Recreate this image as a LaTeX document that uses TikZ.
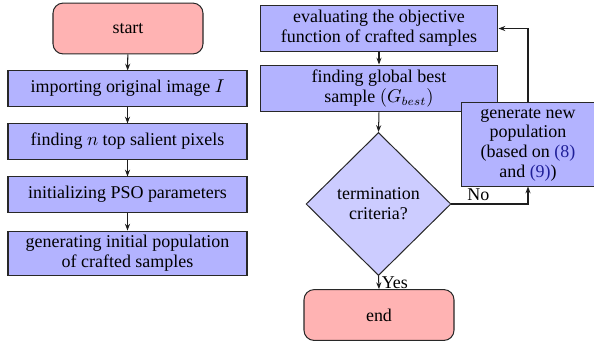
\documentclass[tikz,border=0pt]{standalone}
\usepackage{fontspec}
\setmainfont{Liberation Serif}
\usetikzlibrary{shapes.geometric,arrows.meta}
\definecolor{linkblue}{rgb}{0.12,0.12,0.6}
\begin{document}
\begin{tikzpicture}[x=0.59pt,y=0.59pt,yscale=-1,xscale=1,
  font=\fontsize{10.6}{11.6}\selectfont,
  stepbox/.style={draw={rgb,255:red,40;green,40;blue,40},fill={rgb,255:red,179;green,179;blue,255},line width=0.6pt,inner sep=1pt,align=center},
  termbox/.style={draw={rgb,255:red,40;green,40;blue,40},fill={rgb,255:red,255;green,179;blue,179},line width=0.6pt,rounded corners=6pt,minimum width=88.5pt,minimum height=30pt},
  testbox/.style={diamond,draw={rgb,255:red,40;green,40;blue,40},fill={rgb,255:red,204;green,204;blue,255},line width=0.6pt,inner sep=0pt,align=center,minimum width=85.5pt,minimum height=84.4pt},
  flow/.style={-{Stealth[length=4pt,width=3pt]},line width=0.6pt,draw={rgb,255:red,30;green,30;blue,30}}]
\useasboundingbox (0,0) rectangle (594,341);

% Left column
\node (start) [termbox] at (128,28.5) {start};
\node (import) [stepbox,minimum width=141pt,minimum height=20.7pt] at (127.5,88.5) {importing original image $I$};
\node (salient) [stepbox,minimum width=141pt,minimum height=20.7pt] at (127.5,141.5) {finding $n$ top salient pixels};
\node (params) [stepbox,minimum width=141pt,minimum height=20.7pt] at (127.5,194.5) {initializing PSO parameters};
\node (initpop) [stepbox,minimum width=141pt,minimum height=26.5pt] at (127.5,253.5) {generating initial population\\of crafted samples};

% Right column
\node (evaluate) [stepbox,minimum width=140.4pt,minimum height=27.7pt] at (379,28.5) {evaluating the objective\\function of crafted samples};
\node (gbest) [stepbox,minimum width=140.4pt,minimum height=27.7pt] at (379,88.5) {finding global best\\sample $(G_{best})$};
\node (term) [testbox] at (378.5,204) {termination\\criteria?};
\node (end) [termbox] at (379,315) {end};
\node (newpop) [stepbox,minimum width=79pt,minimum height=49pt,inner sep=0pt] at (528,144.5) {generate new\\population\\(based on \textcolor{linkblue}{(8)}\\and \textcolor{linkblue}{(9)})};

% Connectors
\draw [flow] (start) -- (import);
\draw [flow] (import) -- (salient);
\draw [flow] (salient) -- (params);
\draw [flow] (params) -- (initpop);
\draw [flow] (evaluate) -- (gbest);
\draw [flow] (gbest.south) -- (term.north);
\draw [flow] (term.south) -- node [anchor=west,inner sep=1.5pt] {Yes} (end.north);
\draw [flow] (term.east) -- node [anchor=south,pos=0.35,inner sep=1.5pt] {No} (term.east -| newpop.south) -- (newpop.south);
\draw [flow] (newpop.north) |- (evaluate.east);

\end{tikzpicture}
\end{document}
